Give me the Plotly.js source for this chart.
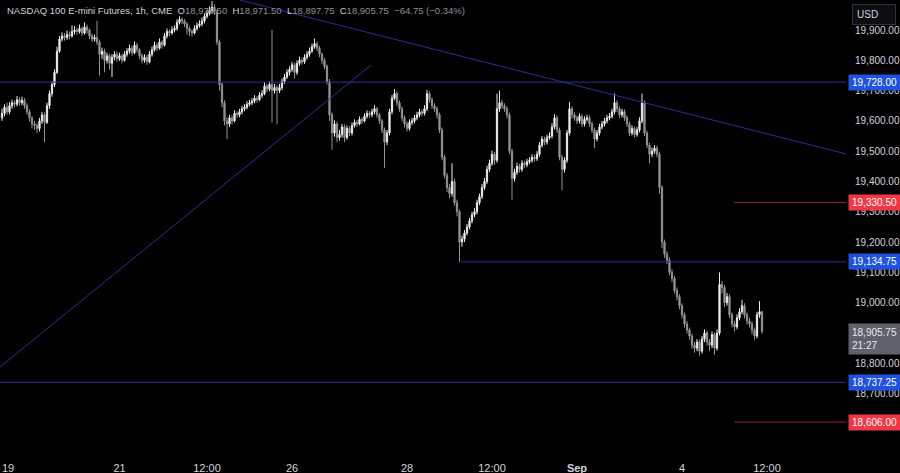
<!DOCTYPE html>
<html>
<head>
<meta charset="utf-8">
<script src="https://cdn.plot.ly/plotly-3.0.1.min.js"></script>
<style>
html,body{margin:0;padding:0;background:#000;}
#chart{width:900px;height:473px;}
</style>
</head>
<body>
<div id="chart"></div>
<script>
// ---- Data (hourly candles, NASDAQ 100 E-mini futures) ----
const open = [
19610,19625,19645,19630,19650,19660,19655,19670,19660,19668,
19650,19630,19610,19590,19585,19575,19600,19620,19595,19650,
19690,19720,19760,19830,19870,19880,19875,19885,19880,19895,
19900,19895,19905,19890,19910,19900,19880,19870,19875,19860,
19820,19830,19800,19815,19790,19810,19820,19805,19815,19800,
19820,19830,19840,19825,19850,19835,19815,19800,19810,19795,
19820,19835,19850,19840,19860,19850,19880,19895,19890,19900,
19905,19925,19935,19930,19920,19905,19895,19890,19905,19915,
19920,19930,19945,19955,19965,19975,19960,19860,19720,19660,
19600,19590,19610,19600,19625,19620,19630,19640,19645,19655,
19660,19665,19675,19670,19685,19690,19715,19705,19720,19700,
19710,19700,19710,19730,19745,19760,19770,19785,19760,19790,
19800,19795,19810,19820,19830,19845,19855,19840,19820,19800,
19780,19730,19620,19560,19590,19545,19555,19580,19545,19575,
19560,19585,19595,19590,19605,19600,19615,19625,19620,19630,
19640,19620,19600,19570,19530,19560,19630,19675,19690,19660,
19640,19610,19590,19575,19595,19600,19610,19620,19630,19625,
19640,19690,19670,19650,19640,19620,19570,19480,19420,19380,
19360,19400,19330,19300,19200,19210,19230,19250,19270,19290,
19300,19330,19350,19380,19400,19440,19460,19490,19470,19640,
19660,19650,19640,19620,19500,19410,19430,19450,19440,19460,
19455,19465,19470,19480,19475,19490,19520,19540,19530,19545,
19550,19580,19610,19570,19480,19440,19470,19560,19640,19620,
19610,19600,19615,19590,19605,19610,19590,19570,19540,19560,
19580,19590,19600,19610,19615,19630,19660,19640,19620,19630,
19610,19590,19560,19575,19555,19570,19600,19660,19560,19520,
19490,19500,19510,19490,19380,19200,19160,19140,19100,19080,
19040,19020,18990,18960,18930,18910,18890,18860,18850,18870,
18840,18880,18900,18870,18860,18895,18850,18900,19060,19050,
19000,19020,18960,18930,18920,18950,18970,18990,18960,18940,
18930,18910,18890,18960,18970.5
];
const high = [
19640,19655,19660,19662,19670,19668,19682,19678,19680,19675,
19658,19638,19615,19600,19592,19610,19630,19628,19660,19700,
19730,19770,19845,19880,19892,19890,19898,19895,19915,19912,
19908,19918,19912,19925,19918,19905,19888,19885,19930,19868,
19842,19838,19825,19822,19820,19830,19828,19825,19822,19830,
19840,19852,19848,19862,19858,19840,19822,19820,19818,19830,
19845,19862,19858,19872,19866,19890,19905,19902,19912,19915,
19935,19945,19942,19936,19926,19912,19902,19915,19925,19932,
19942,19955,19966,19978,19995,19985,19968,19868,19728,19668,
19612,19620,19618,19635,19632,19640,19650,19655,19665,19670,
19675,19685,19682,19695,19702,19728,19722,19730,19900,19722,
19718,19722,19740,19755,19770,19780,19795,19792,19800,19812,
19808,19820,19830,19842,19855,19872,19862,19848,19826,19808,
19786,19738,19628,19602,19598,19570,19590,19588,19585,19582,
19595,19605,19602,19615,19612,19625,19635,19632,19640,19652,
19646,19626,19606,19578,19570,19640,19685,19705,19698,19668,
19648,19618,19598,19605,19610,19620,19630,19640,19638,19652,
19702,19698,19678,19658,19648,19628,19578,19488,19428,19392,
19460,19410,19340,19308,19222,19240,19260,19280,19300,19312,
19340,19360,19392,19412,19452,19472,19502,19498,19690,19700,
19670,19658,19648,19628,19508,19442,19462,19458,19470,19468,
19475,19480,19490,19488,19500,19530,19550,19548,19555,19562,
19592,19622,19618,19578,19488,19480,19570,19662,19648,19628,
19618,19625,19622,19615,19620,19618,19598,19578,19570,19590,
19600,19610,19620,19626,19640,19690,19668,19648,19640,19638,
19618,19598,19585,19582,19580,19612,19690,19668,19568,19528,
19512,19520,19518,19498,19388,19208,19170,19150,19110,19088,
19050,19028,18998,18968,18940,18918,18898,18870,18880,18878,
18890,18912,18908,18880,18905,18902,18912,19100,19072,19058,
19032,19028,18968,18940,18962,18982,19010,18998,18968,18950,
18938,18918,18970,19005,18971.5
];
const low = [
19600,19615,19620,19622,19640,19645,19648,19650,19652,19640,
19620,19598,19575,19570,19560,19565,19590,19530,19590,19640,
19680,19712,19755,19825,19862,19865,19868,19870,19875,19885,
19885,19888,19880,19885,19888,19870,19860,19862,19850,19750,
19805,19760,19790,19770,19745,19800,19795,19798,19790,19795,
19812,19822,19815,19820,19825,19805,19790,19792,19785,19790,
19812,19828,19830,19835,19838,19845,19872,19880,19884,19892,
19898,19918,19920,19910,19885,19880,19878,19885,19898,19908,
19912,19922,19938,19948,19955,19950,19850,19700,19645,19585,
19540,19580,19588,19595,19610,19612,19622,19632,19638,19648,
19652,19658,19660,19665,19676,19685,19695,19698,19595,19690,
19590,19692,19702,19722,19738,19750,19762,19740,19752,19782,
19785,19788,19802,19812,19825,19838,19830,19810,19788,19770,
19720,19600,19505,19548,19530,19535,19545,19530,19538,19550,
19552,19578,19580,19585,19590,19595,19608,19610,19612,19622,
19610,19590,19560,19445,19520,19552,19622,19668,19650,19630,
19598,19578,19565,19568,19586,19592,19602,19612,19615,19618,
19632,19660,19640,19630,19608,19560,19470,19410,19365,19345,
19350,19320,19285,19135,19185,19200,19222,19242,19262,19282,
19292,19322,19342,19372,19392,19432,19452,19455,19462,19630,
19640,19630,19608,19490,19340,19400,19422,19430,19432,19445,
19447,19458,19462,19465,19468,19482,19512,19520,19522,19538,
19542,19572,19560,19470,19370,19430,19462,19552,19608,19600,
19590,19592,19580,19582,19598,19580,19560,19510,19532,19552,
19572,19582,19592,19602,19608,19622,19630,19610,19612,19600,
19580,19550,19552,19545,19548,19562,19592,19550,19510,19460,
19480,19492,19480,19360,19180,19148,19128,19090,19068,19030,
19008,18978,18948,18918,18898,18878,18848,18835,18840,18825,
18832,18870,18858,18840,18850,18828,18842,18892,19030,18985,
18990,18950,18918,18905,18912,18942,18962,18948,18928,18918,
18895,18878,18882,18950,18897.75
];
const close = [
19625,19645,19630,19650,19660,19655,19670,19660,19668,19650,
19630,19610,19590,19585,19575,19600,19620,19595,19650,19690,
19720,19760,19830,19870,19880,19875,19885,19880,19895,19900,
19895,19905,19890,19910,19900,19880,19870,19875,19860,19820,
19830,19800,19815,19790,19810,19820,19805,19815,19800,19820,
19830,19840,19825,19850,19835,19815,19800,19810,19795,19820,
19835,19850,19840,19860,19850,19880,19895,19890,19900,19905,
19925,19935,19930,19920,19905,19895,19890,19905,19915,19920,
19930,19945,19955,19965,19975,19960,19860,19720,19660,19600,
19590,19610,19600,19625,19620,19630,19640,19645,19655,19660,
19665,19675,19670,19685,19690,19715,19705,19720,19700,19710,
19700,19710,19730,19745,19760,19770,19785,19760,19790,19800,
19795,19810,19820,19830,19845,19855,19840,19820,19800,19780,
19730,19620,19560,19590,19545,19555,19580,19545,19575,19560,
19585,19595,19590,19605,19600,19615,19625,19620,19630,19640,
19620,19600,19570,19530,19560,19630,19675,19690,19660,19640,
19610,19590,19575,19595,19600,19610,19620,19630,19625,19640,
19690,19670,19650,19640,19620,19570,19480,19420,19380,19360,
19400,19330,19300,19200,19210,19230,19250,19270,19290,19300,
19330,19350,19380,19400,19440,19460,19490,19470,19640,19660,
19650,19640,19620,19500,19410,19430,19450,19440,19460,19455,
19465,19470,19480,19475,19490,19520,19540,19530,19545,19550,
19580,19610,19570,19480,19440,19470,19560,19640,19620,19610,
19600,19615,19590,19605,19610,19590,19570,19540,19560,19580,
19590,19600,19610,19615,19630,19660,19640,19620,19630,19610,
19590,19560,19575,19555,19570,19600,19660,19560,19520,19490,
19500,19510,19490,19380,19200,19160,19140,19100,19080,19040,
19020,18990,18960,18930,18910,18890,18860,18850,18870,18840,
18880,18900,18870,18860,18895,18850,18900,19060,19050,19000,
19020,18960,18930,18920,18950,18970,18990,18960,18940,18930,
18910,18890,18960,18970.5,18905.75
];

// Time-axis labels (bar index where each label sits)
const tickIdx  = [0, 47, 82, 116, 162, 196, 230, 272, 306];
const tickText = ['19', '21', '12:00', '26', '28', '12:00', '<b>Sep</b>', '4', '12:00'];

// Price axis ticks (18,900 and 18,600 sit under the price tags)
const priceTicks = [18700, 18800, 19000, 19100, 19200, 19300, 19400, 19500, 19600, 19700, 19800, 19900];

// Horizontal levels
const blueLevels = [19728, 19134.75, 18737.25];
const redLevels  = [19330.5, 18606];
const lastTimer  = '21:27';

// ---- Chart ----
const idx = close.map((_, i) => i);
const xRange = [-0.8, 337.6];
const yRange = [18513.9, 19999];
const FONT = '"Liberation Sans", Arial, sans-serif';
const fmt = v => v.toLocaleString('en-US', {minimumFractionDigits: 2, maximumFractionDigits: 2});

const trace = {
  type: 'candlestick',
  x: idx, open: open, high: high, low: low, close: close,
  increasing: {line: {color: '#ececec', width: 1}, fillcolor: '#ececec'},
  decreasing: {line: {color: '#949494', width: 1}, fillcolor: '#949494'},
  hoverinfo: 'skip',
  showlegend: false
};

const lineBlue = '#2b318c';
const lineRed = '#8e2a31';
const shapes = [
  {type: 'line', xref: 'paper', x0: 0, x1: 1, yref: 'y', y0: blueLevels[0], y1: blueLevels[0], line: {color: lineBlue, width: 1}},
  {type: 'line', xref: 'paper', x0: 0, x1: 1, yref: 'y', y0: blueLevels[2], y1: blueLevels[2], line: {color: lineBlue, width: 1}},
  {type: 'line', xref: 'x', x0: 183, x1: xRange[1], yref: 'y', y0: blueLevels[1], y1: blueLevels[1], line: {color: lineBlue, width: 1}},
  {type: 'line', xref: 'x', x0: 293, x1: xRange[1], yref: 'y', y0: redLevels[0], y1: redLevels[0], line: {color: lineRed, width: 1}},
  {type: 'line', xref: 'x', x0: 293, x1: xRange[1], yref: 'y', y0: redLevels[1], y1: redLevels[1], line: {color: lineRed, width: 1}},
  {type: 'line', xref: 'x', x0: 95.2, x1: xRange[1], yref: 'y', y0: 19999, y1: 19491, line: {color: lineBlue, width: 1}},
  {type: 'line', xref: 'x', x0: xRange[0], x1: 147.6, yref: 'y', y0: 18788, y1: 19784, line: {color: lineBlue, width: 1}}
];

function priceBox(v, bg) {
  return {
    xref: 'paper', x: 1, xanchor: 'left', xshift: 2,
    yref: 'y', y: v, yanchor: 'middle',
    text: fmt(v), showarrow: false,
    font: {family: FONT, size: 10, color: '#ffffff'},
    bgcolor: bg, borderpad: 2, width: 47, align: 'center'
  };
}

const last = close[close.length - 1];
const annotations = [];
blueLevels.forEach(v => annotations.push(priceBox(v, '#1f52e0')));
redLevels.forEach(v => annotations.push(priceBox(v, '#f23645')));
annotations.push({
  xref: 'paper', x: 1, xanchor: 'left', xshift: 2,
  yref: 'y', y: last, yanchor: 'top', yshift: 8,
  text: fmt(last) + '<br>' + lastTimer, showarrow: false,
  font: {family: FONT, size: 10, color: '#e8e8e8'},
  bgcolor: '#5f626c', borderpad: 3, width: 45, align: 'left'
});
// USD button
annotations.push({
  xref: 'paper', x: 1, xanchor: 'left', xshift: 6,
  yref: 'paper', y: 1, yanchor: 'top', yshift: -4,
  text: 'USD', showarrow: false,
  font: {family: FONT, size: 10, color: '#d1d4dc'},
  bgcolor: '#0c0e14', bordercolor: '#2f323b', borderwidth: 1, borderpad: 4, width: 34, align: 'left'
});
// First time label sits at the very left edge
annotations.push({
  xref: 'x', x: tickIdx[0], xanchor: 'left', xshift: -2,
  yref: 'paper', y: 0, yanchor: 'top', yshift: -10,
  text: tickText[0], showarrow: false,
  font: {family: FONT, size: 11, color: '#d1d4dc'}
});
// Header / legend line
const g = '#8f9199', w = '#d1d4dc';
const sp = (c, t) => '<span style="color:' + c + '">' + t + '</span>';
const o = open[open.length - 1], h = high[high.length - 1], l = low[low.length - 1];
const chg = last - o;
annotations.push({
  xref: 'paper', x: 0, xanchor: 'left', xshift: 5,
  yref: 'paper', y: 1, yanchor: 'top', yshift: -3,
  text: sp(w, 'NASDAQ 100 E-mini Futures, 1h, CME') + '&nbsp;&nbsp;' +
        sp(w, 'O') + sp(g, fmt(o)) + '&nbsp;&nbsp;' +
        sp(w, 'H') + sp(g, fmt(h)) + '&nbsp;&nbsp;' +
        sp(w, 'L') + sp(g, fmt(l)) + '&nbsp;&nbsp;' +
        sp(w, 'C') + sp(g, fmt(last)) + '&nbsp;&nbsp;' +
        sp(g, '\u2212' + fmt(Math.abs(chg)) + ' (\u2212' + (Math.abs(chg) / o * 100).toFixed(2) + '%)'),
  showarrow: false,
  font: {family: FONT, size: 9.5, color: w}
});

const layout = {
  width: 900, height: 473,
  margin: {l: 0, r: 54, t: 0, b: 23},
  paper_bgcolor: '#000000', plot_bgcolor: '#000000',
  showlegend: false,
  font: {family: FONT, color: '#d1d4dc'},
  xaxis: {
    type: 'linear', range: xRange, fixedrange: true,
    showgrid: false, zeroline: false, showline: false,
    tickmode: 'array', tickvals: tickIdx.slice(1), ticktext: tickText.slice(1),
    ticks: 'outside', ticklen: 8, tickcolor: 'rgba(0,0,0,0)',
    tickfont: {family: FONT, size: 11, color: '#d1d4dc'},
    rangeslider: {visible: false}
  },
  yaxis: {
    side: 'right', range: yRange, fixedrange: true,
    showgrid: false, zeroline: false, showline: false,
    tickmode: 'array', tickvals: priceTicks, tickformat: ',.2f',
    ticks: 'outside', ticklen: 6, tickcolor: 'rgba(0,0,0,0)',
    tickfont: {family: FONT, size: 10, color: '#d1d4dc'}
  },
  shapes: shapes,
  annotations: annotations,
  hovermode: false
};

Plotly.newPlot('chart', [trace], layout, {displayModeBar: false, staticPlot: true});
</script>
</body>
</html>
